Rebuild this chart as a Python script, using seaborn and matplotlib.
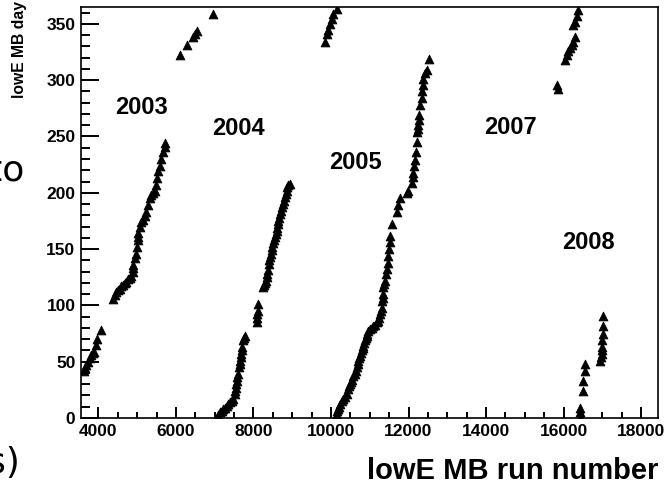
import pandas as pd
import matplotlib
matplotlib.use('Agg')
import matplotlib.pyplot as plt
from matplotlib.ticker import MultipleLocator
import seaborn as sns

# lowE MB run number vs day of year, one block per period
run_2003 = [3620, 3644, 3685, 3729, 3773, 3814, 3850, 3884, 3943, 3969, 4057,
            4374, 4417, 4460, 4503, 4546, 4589, 4632, 4675, 4718, 4761, 4804, 4847,
            4890, 4890, 4890, 4934, 4976, 5001, 5019, 5019, 5019, 5063, 5104,
            5150, 5192, 5233, 5277, 5321, 5362, 5410, 5450, 5491, 5517, 5535,
            5579, 5620, 5664, 5708, 5723,
            6103, 6291, 6446, 6490, 6533, 6962]
day_2003 = [42, 44, 47, 50, 53, 56, 58, 59, 65, 70, 78,
            106, 109, 112, 114, 115, 117, 118, 120, 121, 123, 124, 126,
            130, 133, 136, 142, 146, 152, 158, 161, 164, 170, 174,
            176, 179, 183, 189, 195, 198, 200, 202, 207, 213, 219,
            224, 230, 236, 241, 244,
            322, 331, 338, 341, 344, 359]

run_2004 = [7049, 7092, 7135, 7178, 7220, 7263, 7307, 7350, 7393, 7435, 7478,
            7522, 7530, 7540, 7553, 7566, 7586, 7607, 7625, 7640, 7651, 7665,
            7677, 7695, 7710, 7736, 7760, 7780,
            8082, 8082, 8095, 8107, 8123,
            8252, 8275, 8296, 8318, 8340, 8360, 8381, 8399, 8412, 8425, 8447,
            8469, 8490, 8510, 8532, 8554, 8576, 8598, 8610, 8623, 8640, 8657,
            8683, 8709, 8738, 8768, 8790, 8812, 8834, 8856, 8877, 8897, 8941,
            9845, 9888, 9930, 9973, 10016, 10058, 10145]
day_2004 = [0, 3, 5, 6, 8, 9, 11, 12, 14, 15, 17,
            21, 24, 27, 30, 33, 36, 39, 45, 48, 51, 54,
            57, 60, 63, 69, 71, 73,
            85, 89, 92, 95, 101,
            116, 118, 120, 122, 125, 128, 131, 137, 140, 143, 146,
            149, 152, 155, 158, 161, 163, 166, 169, 172, 175, 178,
            181, 184, 187, 190, 193, 196, 199, 202, 205, 207, 208,
            334, 341, 345, 350, 354, 359, 363]

run_2005 = [10102, 10125, 10145, 10165, 10187, 10210, 10231, 10274, 10316, 10360,
            10403, 10445, 10467, 10489, 10510, 10532, 10575, 10618, 10640,
            10662, 10683, 10703, 10725, 10747, 10770, 10791, 10812, 10832, 10855,
            10876, 10898, 10920, 10940, 10961, 11005, 11049, 11090, 11134, 11175,
            11219, 11240, 11263, 11285, 11307, 11322, 11335, 11348, 11348, 11370,
            11392, 11410, 11436, 11461, 11477, 11495, 11521, 11529, 11564,
            11693, 11735, 11779, 11952, 11993,
            12096, 12122, 12122, 12145, 12166, 12191, 12209, 12225, 12240, 12251,
            12265, 12277, 12294, 12339, 12339, 12364, 12380, 12424, 12468, 12535]
day_2005 = [0, 2, 3, 6, 8, 10, 12, 15, 17, 19,
            21, 26, 28, 30, 32, 34, 37, 39, 42,
            45, 48, 51, 53, 55, 58, 60, 62, 64, 67,
            69, 71, 73, 75, 77, 79, 80, 82, 83, 85,
            86, 89, 92, 95, 98, 104, 107, 110, 116, 119,
            122, 128, 132, 138, 144, 150, 156, 162, 172,
            183, 189, 195, 200, 202,
            209, 214, 218, 224, 229, 236, 245, 254, 257, 260,
            265, 269, 278, 284, 290, 296, 301, 306, 309, 319]

run_2007 = [15822, 15863, 16036, 16080, 16121, 16166, 16210, 16252, 16294,
            16252, 16294, 16338, 16379]
day_2007 = [296, 292, 318, 322, 326, 329, 331, 334, 338,
            349, 352, 357, 362]

run_2008 = [16426, 16426, 16426, 16511, 16511, 16553, 16553,
            16940, 16960, 16983, 16983, 16983, 16983, 17024, 17024, 17024]
day_2008 = [0, 5, 9, 24, 33, 42, 48,
            51, 54, 57, 60, 63, 69, 75, 82, 91]

year_labels = ['2003', '2004', '2005', '2007', '2008']
label_run = [5120, 7600, 10640, 14620, 16630]
label_day = [276, 257, 227, 258, 156]

blocks = [('2003', run_2003, day_2003), ('2004', run_2004, day_2004),
          ('2005', run_2005, day_2005), ('2007', run_2007, day_2007),
          ('2008', run_2008, day_2008)]
df = pd.concat([pd.DataFrame({'run': r, 'day': d, 'year': y}) for y, r, d in blocks],
               ignore_index=True)

sns.set_style('ticks')
plt.rcParams['font.family'] = ['Liberation Sans', 'DejaVu Sans']
plt.rcParams.update({
    'text.color': 'black', 'axes.labelcolor': 'black',
    'xtick.color': 'black', 'ytick.color': 'black',
    'xtick.labelsize': 12.5, 'ytick.labelsize': 12.5,
    'axes.edgecolor': 'black', 'axes.linewidth': 1.2,
})

fig = plt.figure(figsize=(6.64, 4.84), dpi=100)
ax = fig.add_axes([81 / 664, 66 / 484, 577 / 664, 411 / 484])

sns.scatterplot(data=df, x='run', y='day', marker='^', s=40, color='black',
                edgecolor='black', linewidth=0.6, legend=False, ax=ax)

for txt, xr, yd in zip(year_labels, label_run, label_day):
    ax.text(xr, yd, txt, fontsize=17, fontweight='bold', ha='center', va='center')

ax.set_xlim(3550, 18435)
ax.set_ylim(0, 365)
ax.xaxis.set_major_locator(MultipleLocator(2000))
ax.xaxis.set_minor_locator(MultipleLocator(500))
ax.yaxis.set_major_locator(MultipleLocator(50))
ax.yaxis.set_minor_locator(MultipleLocator(10))

# ROOT-like inward ticks, longer on the y axis
ax.tick_params(axis='both', which='both', direction='in', bottom=True, left=True,
               top=False, right=False, color='black')
ax.tick_params(axis='x', which='major', length=8, width=1.4, pad=4)
ax.tick_params(axis='x', which='minor', length=4, width=1.4)
ax.tick_params(axis='y', which='major', length=13, width=1.4, pad=4)
ax.tick_params(axis='y', which='minor', length=6.5, width=1.4)

for lab in ax.get_xticklabels() + ax.get_yticklabels():
    lab.set_fontweight('bold')

ax.set_xlabel('lowE MB run number', fontsize=21, fontweight='bold', loc='right')
ax.xaxis.set_label_coords(1.0, -0.095)
ax.set_ylabel('lowE MB day', fontsize=11.3, fontweight='bold', loc='top')
ax.yaxis.set_label_coords(-0.094, 1.015)

# leftovers of the surrounding slide text
fig.text(-0.018, 0.628, 'to', fontsize=26, family='DejaVu Sans', va='baseline')
fig.text(-0.02, 0.023, 's)', fontsize=26, family='DejaVu Sans', va='baseline')

fig.savefig('out.png', dpi=100)
